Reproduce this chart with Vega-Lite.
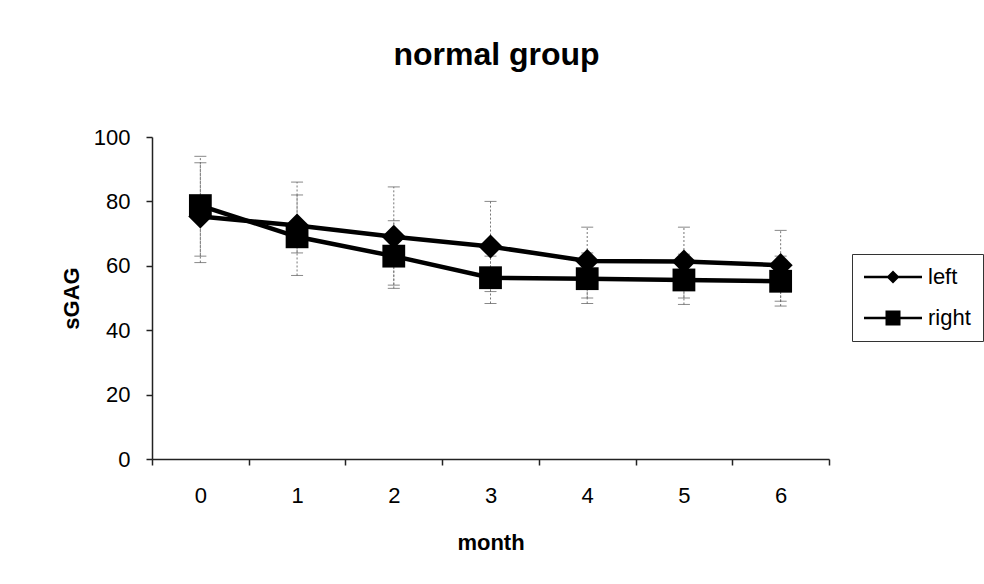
{
  "$schema": "https://vega.github.io/schema/vega-lite/v6.json",
  "width": 677,
  "height": 322,
  "autosize": "none",
  "padding": {"left": 152, "top": 137, "right": 155, "bottom": 125},
  "background": "white",
  "title": {"text": "normal group", "font": "Liberation Sans", "fontSize": 32, "fontWeight": "bold", "color": "black", "anchor": "middle", "offset": 54, "dx": 6},
  "config": {
    "view": {"stroke": null},
    "axis": {"labelFont": "Liberation Sans", "labelFontSize": 22, "labelColor": "black", "titleFont": "Liberation Sans", "titleFontSize": 22, "titleFontWeight": "bold", "titleColor": "black", "domainColor": "#222", "domainWidth": 1.5, "tickColor": "#222", "tickWidth": 1.5, "grid": false, "tickSize": 6}
  },
  "data": {"values": [
    {"month": 0, "side": "left", "mean": 75.3, "lo": 61, "hi": 92},
    {"month": 1, "side": "left", "mean": 72.5, "lo": 57, "hi": 86},
    {"month": 2, "side": "left", "mean": 69, "lo": 53, "hi": 84.5},
    {"month": 3, "side": "left", "mean": 66, "lo": 52, "hi": 80},
    {"month": 4, "side": "left", "mean": 61.5, "lo": 50, "hi": 72},
    {"month": 5, "side": "left", "mean": 61.3, "lo": 50, "hi": 72},
    {"month": 6, "side": "left", "mean": 60.2, "lo": 49, "hi": 71},
    {"month": 0, "side": "right", "mean": 78.7, "lo": 63, "hi": 94},
    {"month": 1, "side": "right", "mean": 69, "lo": 64, "hi": 82},
    {"month": 2, "side": "right", "mean": 63, "lo": 54, "hi": 74},
    {"month": 3, "side": "right", "mean": 56.3, "lo": 48.3, "hi": 63},
    {"month": 4, "side": "right", "mean": 56, "lo": 48.3, "hi": 64},
    {"month": 5, "side": "right", "mean": 55.6, "lo": 48, "hi": 63.6},
    {"month": 6, "side": "right", "mean": 55.2, "lo": 47.5, "hi": 63}
  ]},
  "encoding": {
    "x": {"field": "month", "type": "ordinal", "scale": {"type": "band", "paddingInner": 0, "paddingOuter": 0},
      "axis": {"title": "month", "labelAngle": 0, "tickBand": "extent", "labelPadding": 20, "titlePadding": 26}}
  },
  "layer": [
    {
      "mark": {"type": "rule", "color": "#777", "strokeWidth": 1, "strokeDash": [2, 2]},
      "encoding": {
        "y": {"field": "lo", "type": "quantitative", "scale": {"domain": [0, 100]}, "axis": {"title": "sGAG", "values": [0, 20, 40, 60, 80, 100], "labelPadding": 16, "titlePadding": 10}},
        "y2": {"field": "hi"}
      }
    },
    {
      "mark": {"type": "tick", "color": "#555", "thickness": 1, "size": 12},
      "encoding": {"y": {"field": "hi", "type": "quantitative"}}
    },
    {
      "mark": {"type": "tick", "color": "#555", "thickness": 1, "size": 12},
      "encoding": {"y": {"field": "lo", "type": "quantitative"}}
    },
    {
      "mark": {"type": "line", "color": "black", "strokeWidth": 4.5},
      "encoding": {"y": {"field": "mean", "type": "quantitative"}, "detail": {"field": "side"}}
    },
    {
      "mark": {"type": "point", "filled": true, "color": "black", "opacity": 1},
      "encoding": {
        "y": {"field": "mean", "type": "quantitative"},
        "shape": {"condition": {"test": "datum.side === 'left'", "value": "diamond"}, "value": "square"},
        "size": {"condition": {"test": "datum.side === 'left'", "value": 580}, "value": 520}
      }
    },
    {
      "mark": {"type": "point", "filled": true, "color": "black", "opacity": 0},
      "encoding": {
        "y": {"field": "mean", "type": "quantitative"},
        "shape": {"field": "side", "type": "nominal",
          "scale": {"domain": ["left", "right"], "range": ["M-2.9,-0.12L2.9,-0.12L2.9,0.12L-2.9,0.12ZM0,-0.65L0.65,0L0,0.65L-0.65,0Z", "M-2.9,-0.12L2.9,-0.12L2.9,0.12L-2.9,0.12ZM-0.75,-0.75L0.75,-0.75L0.75,0.75L-0.75,0.75Z"]},
          "legend": {"title": null, "orient": "none", "legendX": 700, "legendY": 117, "strokeColor": "#333", "fillColor": "white", "padding": 12,
            "symbolOpacity": 1, "symbolSize": 400, "symbolOffset": 18, "symbolStrokeWidth": 0,
            "labelFont": "Liberation Sans", "labelFontSize": 22, "labelColor": "black", "labelOffset": 24, "rowPadding": 19,
            "encode": {"symbols": {"fill": {"value": "black"}, "strokeWidth": {"value": 0}, "opacity": {"value": 1}}}}}
      }
    }
  ]
}
